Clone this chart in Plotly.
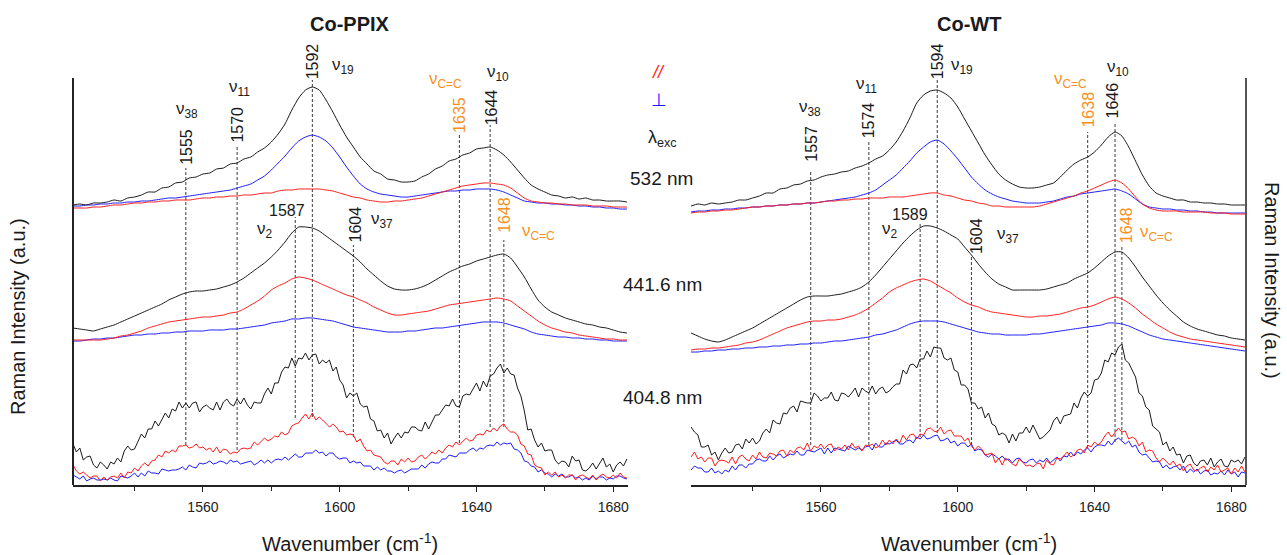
import plotly.graph_objects as go

# Raman shift sampling (cm^-1)
wn_coarse = list(range(1522, 1685, 2))
wn_fine = list(range(1522, 1685))

# ---------------- Co-PPIX ----------------
# 532 nm excitation
ppix_532_total = [280, 281, 280, 282, 282, 283, 285, 284, 287, 288,
                  290, 293, 293, 297, 298, 302, 303, 307, 308, 311,
                  312, 316, 317, 321, 322, 326, 328, 333, 337, 343,
                  351, 361, 375, 387, 395, 398, 395, 385, 373, 360,
                  348, 338, 328, 321, 314, 311, 306, 305, 303, 303,
                  304, 308, 311, 316, 319, 324, 326, 330, 332, 336,
                  337, 338, 335, 330, 323, 315, 307, 300, 296, 293,
                  290, 289, 287, 288, 286, 287, 285, 285, 284, 284,
                  284, 283]
ppix_532_par = [277, 277, 277, 278, 278, 279, 280, 280, 281, 282,
                282, 283, 283, 284, 284, 285, 285, 285, 286, 287,
                287, 288, 288, 289, 289, 290, 290, 291, 292, 292,
                294, 295, 295, 296, 296, 296, 296, 295, 294, 292,
                290, 288, 287, 285, 284, 283, 283, 284, 284, 285,
                286, 287, 289, 291, 293, 295, 297, 299, 300, 301,
                302, 302, 301, 300, 297, 292, 287, 284, 283, 282,
                282, 281, 281, 280, 280, 280, 279, 279, 279, 278,
                278, 278]
ppix_532_perp = [279, 279, 280, 280, 281, 281, 282, 282, 283, 283,
                 284, 284, 285, 286, 287, 287, 288, 289, 290, 291,
                 292, 293, 294, 295, 297, 299, 301, 305, 309, 315,
                 322, 329, 337, 344, 348, 350, 348, 344, 337, 328,
                 318, 309, 301, 296, 293, 291, 290, 289, 288, 288,
                 289, 290, 291, 292, 293, 294, 294, 295, 295, 296,
                 296, 296, 295, 293, 290, 287, 284, 283, 282, 282,
                 281, 281, 280, 280, 279, 279, 278, 278, 277, 277,
                 276, 276]
# 441.6 nm excitation
ppix_441_total = [157, 156, 155, 154, 156, 158, 160, 163, 166, 169,
                  172, 175, 178, 181, 185, 188, 191, 193, 194, 194,
                  195, 196, 198, 200, 203, 207, 212, 217, 222, 228,
                  235, 243, 252, 258, 258, 257, 254, 249, 244, 239,
                  234, 229, 223, 216, 210, 204, 199, 196, 195, 195,
                  196, 198, 201, 205, 209, 213, 216, 219, 221, 224,
                  226, 228, 230, 231, 227, 218, 208, 196, 185, 178,
                  173, 170, 167, 165, 163, 161, 160, 158, 157, 155,
                  153, 152]
ppix_441_par = [145, 145, 145, 145, 145, 146, 147, 149, 150, 152,
                154, 157, 159, 161, 163, 164, 165, 166, 167, 168,
                168, 169, 170, 172, 173, 176, 180, 184, 189, 195,
                199, 202, 206, 208, 207, 205, 202, 199, 196, 193,
                190, 188, 185, 182, 178, 175, 172, 170, 170, 171,
                172, 173, 174, 176, 178, 180, 181, 182, 183, 184,
                185, 186, 187, 186, 184, 179, 174, 169, 164, 160,
                157, 155, 153, 152, 150, 149, 148, 147, 146, 146,
                145, 145]
ppix_441_perp = [144, 144, 145, 146, 146, 147, 147, 148, 149, 150,
                 150, 151, 151, 152, 152, 153, 153, 154, 154, 154,
                 155, 155, 155, 156, 156, 157, 158, 159, 160, 162,
                 163, 164, 166, 166, 167, 167, 166, 165, 164, 162,
                 160, 158, 157, 156, 155, 154, 153, 153, 153, 154,
                 154, 155, 156, 157, 157, 158, 159, 160, 161, 162,
                 163, 163, 163, 162, 160, 158, 156, 153, 151, 150,
                 149, 148, 148, 147, 147, 146, 146, 145, 145, 144,
                 144, 144]
# 404.8 nm excitation
ppix_404_total = [41, 33, 37, 25, 28, 29, 20, 17, 23, 20,
                  16, 23, 21, 27, 23, 34, 39, 35, 36, 44,
                  51, 47, 56, 56, 64, 59, 65, 72, 67, 76,
                  74, 83, 77, 82, 77, 82, 83, 73, 78, 80,
                  77, 75, 83, 75, 83, 86, 81, 79, 86, 81,
                  87, 80, 76, 83, 82, 82, 91, 97, 91, 102,
                  102, 113, 118, 117, 127, 119, 127, 126, 132, 125,
                  130, 131, 121, 125, 122, 125, 114, 118, 105, 100,
                  87, 92, 89, 92, 81, 78, 79, 66, 64, 54,
                  55, 47, 52, 41, 47, 52, 47, 53, 52, 58,
                  58, 55, 54, 63, 56, 63, 70, 70, 75, 80,
                  79, 86, 79, 78, 89, 91, 90, 96, 102, 94,
                  104, 98, 109, 111, 117, 121, 112, 117, 111, 110,
                  97, 89, 74, 55, 56, 45, 38, 42, 34, 35,
                  35, 25, 21, 24, 23, 18, 29, 24, 25, 15,
                  14, 17, 22, 16, 21, 27, 18, 21, 13, 20,
                  23, 19, 26]
ppix_404_par = [20, 14, 11, 13, 10, 7, 9, 9, 4, 8,
                5, 8, 9, 7, 12, 7, 13, 12, 17, 14,
                19, 22, 19, 24, 25, 30, 28, 34, 32, 35,
                33, 39, 39, 40, 37, 38, 41, 37, 38, 35,
                37, 33, 38, 32, 36, 35, 31, 33, 32, 36,
                37, 36, 37, 43, 40, 44, 47, 44, 46, 49,
                48, 53, 50, 52, 59, 61, 62, 67, 71, 66,
                72, 65, 68, 65, 61, 58, 61, 58, 53, 54,
                50, 51, 50, 43, 46, 39, 34, 35, 30, 29,
                28, 23, 21, 24, 24, 20, 26, 23, 27, 23,
                24, 28, 30, 26, 29, 33, 31, 35, 32, 37,
                40, 38, 43, 40, 44, 47, 44, 45, 50, 51,
                50, 55, 53, 57, 54, 59, 61, 56, 53, 53,
                50, 41, 39, 31, 30, 20, 18, 17, 10, 13,
                10, 13, 8, 10, 7, 10, 10, 5, 9, 10,
                8, 6, 10, 5, 9, 11, 8, 7, 10, 7,
                12, 8, 7]
ppix_404_perp = [10, 8, 6, 9, 4, 6, 7, 5, 5, 6,
                 5, 7, 5, 4, 9, 8, 7, 9, 12, 8,
                 12, 9, 14, 12, 12, 11, 16, 15, 14, 15,
                 15, 16, 18, 15, 20, 18, 17, 22, 21, 22,
                 24, 21, 22, 24, 23, 21, 25, 23, 24, 21,
                 22, 23, 24, 20, 22, 25, 22, 25, 22, 25,
                 26, 25, 28, 25, 28, 31, 28, 28, 32, 32,
                 32, 35, 32, 33, 29, 32, 32, 28, 26, 27,
                 27, 22, 24, 22, 23, 19, 19, 19, 15, 18,
                 15, 17, 14, 14, 12, 14, 15, 12, 14, 16,
                 16, 16, 20, 17, 21, 23, 22, 22, 26, 26,
                 30, 29, 28, 32, 32, 32, 35, 37, 34, 37,
                 36, 39, 40, 39, 43, 40, 42, 41, 42, 36,
                 35, 32, 24, 23, 19, 18, 13, 15, 12, 11,
                 8, 11, 9, 11, 8, 8, 10, 7, 8, 5,
                 7, 5, 9, 6, 8, 8, 5, 7, 6, 9,
                 9, 7, 6]

# ---------------- Co-WT ----------------
wt_532_total = [279, 281, 280, 282, 281, 282, 283, 285, 285, 287,
                289, 292, 292, 296, 297, 300, 301, 304, 305, 308,
                310, 311, 313, 314, 317, 319, 322, 326, 329, 335,
                343, 354, 367, 382, 390, 394, 395, 392, 387, 378,
                366, 354, 342, 330, 320, 311, 305, 301, 298, 297,
                297, 298, 300, 302, 308, 315, 321, 325, 328, 333,
                340, 348, 353, 349, 338, 324, 310, 299, 292, 289,
                287, 285, 285, 283, 283, 282, 282, 281, 281, 280,
                280, 280]
wt_532_par = [272, 273, 273, 274, 274, 275, 275, 276, 277, 278,
              278, 279, 279, 280, 280, 281, 281, 282, 282, 283,
              284, 284, 285, 285, 286, 286, 287, 287, 287, 288,
              288, 288, 289, 290, 291, 292, 292, 290, 289, 287,
              285, 284, 282, 281, 279, 279, 278, 278, 278, 278,
              278, 279, 281, 283, 285, 287, 289, 292, 294, 297,
              300, 303, 305, 302, 296, 288, 281, 277, 275, 274,
              274, 274, 273, 273, 273, 273, 272, 272, 272, 271,
              271, 271]
wt_532_perp = [273, 274, 274, 275, 275, 276, 276, 277, 277, 278,
               278, 279, 279, 280, 280, 281, 281, 282, 282, 283,
               284, 285, 286, 287, 288, 290, 292, 295, 300, 305,
               310, 317, 324, 332, 338, 343, 345, 341, 334, 326,
               317, 308, 301, 295, 291, 288, 286, 284, 283, 282,
               282, 282, 283, 284, 286, 288, 289, 291, 292, 293,
               294, 295, 296, 294, 291, 286, 281, 278, 277, 276,
               276, 275, 275, 274, 274, 273, 273, 272, 272, 272,
               272, 272]
wt_441_total = [152, 149, 146, 144, 143, 145, 148, 151, 154, 157,
                161, 165, 169, 173, 177, 181, 185, 188, 189, 189,
                189, 190, 191, 193, 195, 198, 203, 210, 218, 226,
                234, 242, 249, 255, 259, 259, 257, 254, 250, 246,
                238, 230, 221, 213, 206, 201, 198, 195, 195, 195,
                195, 195, 196, 198, 200, 202, 206, 209, 212, 217,
                223, 229, 233, 233, 227, 218, 208, 199, 190, 182,
                175, 169, 163, 159, 156, 154, 152, 150, 149, 147,
                146, 145]
wt_441_par = [135, 136, 136, 137, 137, 138, 139, 140, 142, 143,
              145, 148, 151, 154, 157, 159, 161, 163, 164, 164,
              165, 165, 166, 168, 170, 173, 177, 182, 187, 193,
              197, 200, 203, 205, 206, 204, 200, 196, 192, 187,
              183, 180, 178, 175, 173, 172, 171, 170, 169, 168,
              168, 169, 169, 170, 171, 173, 175, 177, 178, 180,
              183, 186, 188, 186, 182, 177, 171, 166, 161, 157,
              153, 150, 148, 146, 145, 144, 143, 142, 141, 140,
              139, 138]
wt_441_perp = [133, 133, 134, 134, 135, 135, 136, 136, 137, 137,
               138, 138, 139, 139, 140, 140, 141, 141, 142, 142,
               143, 144, 144, 145, 146, 147, 148, 150, 151, 153,
               155, 158, 161, 163, 164, 164, 164, 163, 161, 159,
               157, 155, 153, 152, 151, 151, 150, 150, 150, 150,
               151, 151, 152, 153, 154, 155, 156, 157, 158, 159,
               160, 162, 162, 161, 159, 156, 153, 150, 148, 146,
               145, 144, 143, 142, 141, 140, 139, 138, 137, 136,
               135, 134]
wt_404_total = [58, 53, 50, 38, 38, 40, 30, 33, 25, 32,
                37, 32, 33, 40, 41, 36, 46, 42, 47, 41,
                44, 52, 56, 52, 65, 62, 61, 72, 71, 77,
                79, 73, 84, 83, 82, 82, 92, 89, 84, 87,
                87, 93, 85, 84, 92, 91, 88, 92, 97, 88,
                97, 94, 92, 99, 91, 96, 98, 92, 94, 98,
                101, 101, 115, 111, 120, 121, 117, 126, 126, 134,
                128, 138, 137, 137, 127, 125, 127, 115, 113, 100,
                100, 96, 82, 82, 76, 78, 67, 72, 61, 59,
                50, 52, 50, 42, 51, 44, 52, 52, 58, 52,
                60, 53, 46, 48, 52, 55, 64, 68, 61, 69,
                70, 71, 82, 77, 87, 93, 89, 92, 105, 106,
                112, 125, 123, 132, 130, 138, 141, 125, 122, 115,
                108, 92, 89, 78, 75, 59, 56, 53, 40, 43,
                34, 38, 30, 31, 22, 29, 30, 22, 19, 24,
                25, 20, 27, 18, 23, 26, 19, 18, 25, 23,
                25, 21, 28]
wt_404_par = [28, 33, 26, 28, 23, 27, 27, 19, 24, 25,
              24, 22, 28, 21, 28, 30, 26, 24, 30, 26,
              33, 28, 27, 32, 31, 29, 34, 35, 29, 35,
              32, 37, 38, 35, 42, 34, 39, 37, 41, 36,
              40, 41, 34, 38, 36, 40, 35, 42, 37, 39,
              34, 40, 39, 41, 37, 39, 45, 40, 45, 41,
              46, 42, 50, 45, 50, 51, 46, 51, 50, 56,
              57, 54, 53, 58, 51, 54, 55, 49, 49, 49,
              44, 47, 39, 35, 39, 36, 30, 31, 32, 22,
              27, 20, 27, 24, 21, 19, 26, 23, 19, 20,
              18, 21, 22, 16, 25, 21, 20, 27, 26, 29,
              33, 28, 30, 35, 36, 32, 40, 38, 43, 40,
              43, 49, 53, 48, 52, 57, 53, 54, 46, 48,
              46, 39, 43, 33, 35, 34, 27, 23, 27, 23,
              20, 24, 19, 21, 14, 19, 21, 15, 14, 17,
              19, 13, 18, 15, 20, 13, 15, 17, 11, 17,
              13, 19, 13]
wt_404_perp = [15, 19, 17, 17, 13, 13, 17, 12, 14, 11,
               15, 13, 19, 15, 20, 20, 17, 21, 21, 25,
               26, 24, 24, 29, 25, 29, 31, 27, 29, 31,
               30, 34, 30, 30, 35, 34, 33, 35, 37, 31,
               37, 32, 37, 36, 35, 34, 39, 37, 35, 37,
               35, 38, 39, 35, 42, 38, 38, 42, 41, 43,
               45, 41, 41, 44, 45, 42, 48, 46, 50, 46,
               47, 49, 50, 44, 45, 47, 42, 44, 39, 42,
               42, 38, 41, 34, 36, 35, 30, 28, 31, 29,
               26, 29, 25, 26, 22, 26, 27, 23, 22, 25,
               26, 22, 25, 23, 27, 22, 25, 28, 24, 29,
               28, 33, 29, 33, 31, 35, 37, 33, 38, 40,
               40, 39, 44, 40, 45, 47, 44, 41, 44, 38,
               40, 33, 30, 31, 27, 23, 24, 23, 17, 20,
               16, 18, 19, 15, 19, 12, 16, 13, 16, 11,
               14, 15, 10, 12, 11, 14, 10, 15, 11, 13,
               8, 13, 12]

# Band assignments (peak position, mode label)
ppix_peaks = [1555, 1570, 1587, 1592, 1604, 1635, 1644, 1648]
wt_peaks = [1557, 1574, 1589, 1594, 1604, 1638, 1646, 1648]
mode_names = ["38", "11", "2", "19", "37", "C=C", "10", "C=C"]
vinyl_modes = [False, False, False, False, False, True, False, True]

# ---------------- styling / placement ----------------
BLACK, RED, BLUE, ORANGE = "#1a1a1a", "#ff1a1a", "#1a1aff", "#f7901e"
FONT = "Liberation Sans, Arial, sans-serif"

# per-band placement: number label (x, y, angle), mode label (x, y), guide (top, bottom)
ppix_place = [
    ((1555, 338, -90), (1555.4, 375), (317, 40)),
    ((1570, 360.5, -90), (1570.6, 397), (340, 35)),
    ((1584.6, 275, 0), (1578.2, 255), (268, 67)),
    ((1592, 424, -90), (1601.0, 419), (405, 68)),
    ((1604.6, 261, -90), (1612.4, 265), (240, 48)),
    ((1635, 370.5, -90), (1630.8, 405), (350, 42)),
    ((1644.5, 377.5, -90), (1646.3, 412), (360, 58)),
    ((1648, 270, -90), (1658.0, 253), (245, 58)),
]
wt_place = [
    ((1557, 341, -90), (1556.8, 377), (315, 40)),
    ((1574, 364.5, -90), (1573.4, 400), (345, 40)),
    ((1586, 271, 0), (1580.2, 255), (263, 48)),
    ((1594, 424, -90), (1601.2, 419), (405, 52)),
    ((1605.5, 248.5, -90), (1614.7, 250), (230, 40)),
    ((1638.1, 375.5, -90), (1633.1, 405), (353, 37)),
    ((1645.4, 384.5, -90), (1646.9, 417), (363, 43)),
    ((1649.4, 259.5, -90), (1658.1, 252.5), (238, 45)),
]

fig = go.Figure()

panels = [
    ("x", "y", ppix_peaks, ppix_place,
     [(ppix_532_total, ppix_532_par, ppix_532_perp),
      (ppix_441_total, ppix_441_par, ppix_441_perp)],
     (ppix_404_total, ppix_404_par, ppix_404_perp)),
    ("x2", "y2", wt_peaks, wt_place,
     [(wt_532_total, wt_532_par, wt_532_perp),
      (wt_441_total, wt_441_par, wt_441_perp)],
     (wt_404_total, wt_404_par, wt_404_perp)),
]

annotations = []
for xa, ya, peaks, place, smooth_sets, noisy_set in panels:
    # dashed guides at the band positions
    for pk, (_, _, (top, bot)) in zip(peaks, place):
        fig.add_trace(go.Scatter(
            x=[pk, pk], y=[bot, top], xaxis=xa, yaxis=ya, mode="lines",
            line=dict(color="#3a3a3a", width=1, dash="3px,2px"),
            hoverinfo="skip"))
    # spectra: total (black), parallel (red), perpendicular (blue)
    for total, par, perp in smooth_sets:
        for ys, col in ((perp, BLUE), (par, RED), (total, BLACK)):
            fig.add_trace(go.Scatter(
                x=wn_coarse, y=ys, xaxis=xa, yaxis=ya, mode="lines",
                line=dict(color=col, width=1, shape="spline", smoothing=0.6)))
    total, par, perp = noisy_set
    for ys, col in ((perp, BLUE), (par, RED), (total, BLACK)):
        fig.add_trace(go.Scatter(
            x=wn_fine, y=ys, xaxis=xa, yaxis=ya, mode="lines",
            line=dict(color=col, width=1)))
    # band labels
    for pk, name, vinyl, ((nx, ny, ang), (mx, my), _) in zip(peaks, mode_names, vinyl_modes, place):
        col = ORANGE if vinyl else BLACK
        annotations.append(dict(
            x=nx, y=ny, xref=xa, yref=ya, text=str(pk), textangle=ang,
            xanchor="center", yanchor="middle",
            showarrow=False, font=dict(family=FONT, size=16, color=col)))
        annotations.append(dict(
            x=mx, y=my, xref=xa, yref=ya, text="\u03bd<sub>%s</sub>" % name,
            xanchor="center", yanchor="middle",
            showarrow=False, font=dict(family=FONT, size=17, color=col)))


def px(x, y):
    """convert page pixel position to paper coordinates"""
    return (x - 73) / 1173.0, (485 - y) / 445.0


def paper_text(text, x, y, size, color=BLACK, angle=0):
    xp, yp = px(x, y)
    annotations.append(dict(x=xp, y=yp, xref="paper", yref="paper", text=text,
                            textangle=angle, showarrow=False,
                            xanchor="center", yanchor="middle",
                            font=dict(family=FONT, size=size, color=color)))


paper_text("<b>Co-PPIX</b>", 350, 24, 20)
paper_text("<b>Co-WT</b>", 969, 24, 20)
paper_text("Wavenumber (cm<sup>-1</sup>)", 350, 542, 20)
paper_text("Wavenumber (cm<sup>-1</sup>)", 969, 542, 20)
paper_text("Raman Intensity (a.u.)", 18, 317, 20, angle=-90)
paper_text("Raman Intensity (a.u.)", 1272, 280, 20, angle=90)
paper_text("<i>//</i>", 658, 72, 18, RED)
paper_text("\u22a5", 659, 100, 18, BLUE)
paper_text("\u03bb<sub>exc</sub>", 662, 138, 18)
paper_text("532 nm", 661, 178, 19)
paper_text("441.6 nm", 662, 284, 19)
paper_text("404.8 nm", 662, 397, 19)

xcommon = dict(range=[1522, 1684.3], showgrid=False, zeroline=False,
               showline=True, linecolor="#222", linewidth=1.5,
               ticks="outside", ticklen=5, tickwidth=1.2, tickcolor="#222",
               tick0=1560, dtick=40,
               minor=dict(ticks="outside", ticklen=4, tickwidth=1.2,
                          tickcolor="#222", dtick=20),
               tickfont=dict(family=FONT, size=14, color="#222"),
               ticklabelstandoff=3,
               fixedrange=True)
ycommon = dict(range=[0, 445], visible=False, fixedrange=True)

fig.update_layout(
    width=1287, height=555,
    margin=dict(l=73, r=41, t=40, b=70),
    paper_bgcolor="white", plot_bgcolor="white",
    showlegend=False,
    font=dict(family=FONT, color=BLACK),
    xaxis=dict(domain=[0, 0.4731], anchor="y", **xcommon),
    xaxis2=dict(domain=[0.5269, 1], anchor="y2", **xcommon),
    yaxis=dict(anchor="x", **ycommon),
    yaxis2=dict(anchor="x2", **ycommon),
    annotations=annotations,
    shapes=[
        dict(type="line", xref="x domain", yref="y", x0=0, x1=0, y0=0, y1=407,
             line=dict(color="#222", width=2)),
        dict(type="line", xref="x2 domain", yref="y2", x0=1, x1=1, y0=0, y1=407,
             line=dict(color="#555", width=2)),
    ],
)

fig.write_html("out.html")
